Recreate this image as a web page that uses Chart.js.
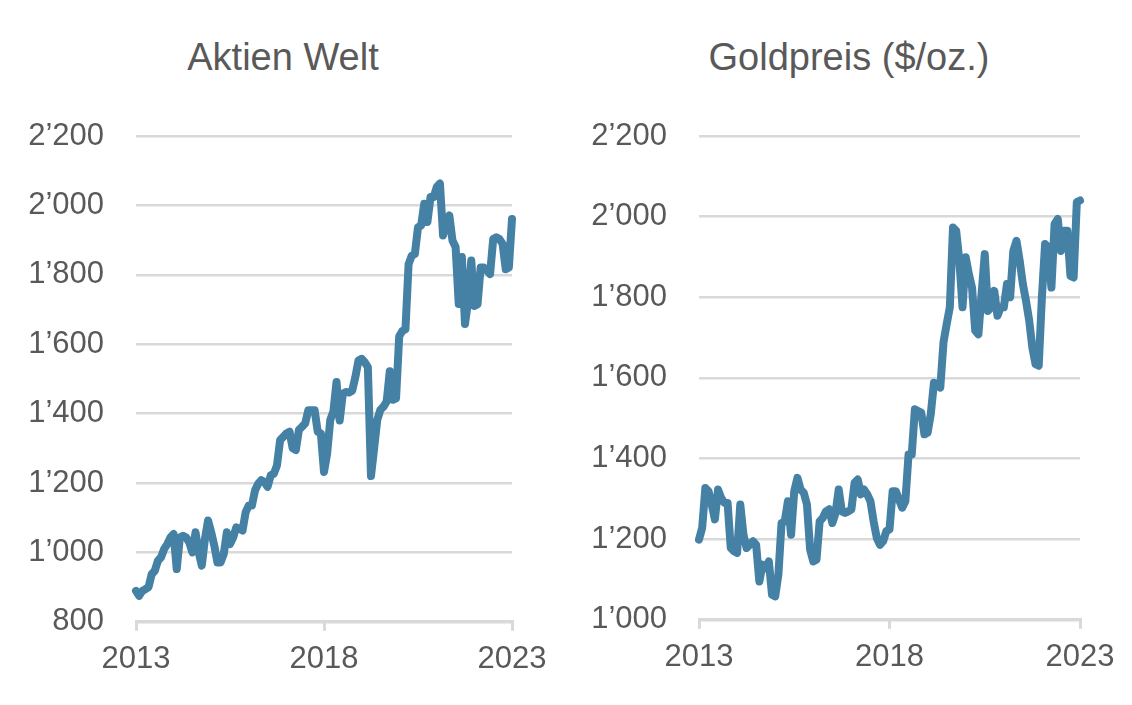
<!DOCTYPE html>
<html>
<head>
<meta charset="utf-8">
<script src="https://cdn.jsdelivr.net/npm/chart.js@4"></script>
<style>
  body { margin: 0; background: #fff; }
  .panel { position: absolute; top: 0; width: 566px; height: 705px; }
  #left { left: 0; }
  #right { left: 566px; }
  .title {
    position: absolute; left: 0; top: 36px; width: 566px;
    text-align: center; line-height: 46px;
    font: 38px "Liberation Sans", Arial, sans-serif; color: #595959;
  }
  canvas { position: absolute; left: 0; top: 0; }
</style>
</head>
<body>
<div class="panel" id="left"><div class="title" id="t0"></div><canvas id="aktien"></canvas></div>
<div class="panel" id="right"><div class="title" id="t1"></div><canvas id="gold"></canvas></div>
<script>
// monthly values, Jan 2013 .. Jan 2023
const aktienWelt = [
  889, 875, 889, 894, 900, 937, 947, 976, 986, 1010, 1024, 1043,
  1053, 952, 1043, 1048, 1043, 1029, 1000, 1058, 1000, 962, 1039, 1092,
  1058, 1019, 971, 971, 995, 1058, 1024, 1043, 1072, 1068, 1063, 1116,
  1135, 1135, 1179, 1198, 1208, 1203, 1189, 1222, 1227, 1251, 1324, 1333,
  1343, 1348, 1300, 1295, 1353, 1362, 1372, 1410, 1410, 1410, 1348, 1343,
  1232, 1285, 1382, 1406, 1491, 1380, 1457, 1462, 1461, 1466, 1505, 1553,
  1558, 1548, 1534, 1220, 1300, 1382, 1411, 1420, 1435, 1522, 1440, 1444,
  1623, 1638, 1643, 1831, 1855, 1860, 1937, 1942, 2005, 1952, 2024, 2024,
  2053, 2063, 1913, 1947, 1971, 1899, 1880, 1716, 1851, 1658, 1725, 1841,
  1710, 1715, 1821, 1821, 1812, 1802, 1903, 1908, 1903, 1889, 1816, 1821,
  1961
];
const goldPreis = [
  1199, 1228, 1327, 1319, 1286, 1249, 1323, 1302, 1290, 1290, 1178, 1170,
  1166, 1286, 1211, 1178, 1186, 1195, 1186, 1095, 1137, 1128, 1145, 1062,
  1058, 1112, 1240, 1244, 1294, 1211, 1319, 1352, 1323, 1315, 1286, 1174,
  1145, 1149, 1244, 1253, 1269, 1274, 1240, 1265, 1323, 1269, 1265, 1269,
  1274, 1340, 1348, 1311, 1323, 1311, 1294, 1244, 1203, 1186, 1195, 1220,
  1224, 1319, 1319, 1298, 1278, 1294, 1410, 1410, 1522, 1518, 1514, 1460,
  1464, 1510, 1588, 1584, 1576, 1688, 1733, 1775, 1973, 1965, 1891, 1775,
  1899, 1857, 1824, 1717, 1708, 1808, 1907, 1766, 1775, 1816, 1754, 1775,
  1775, 1833, 1800, 1915, 1940, 1891, 1833, 1791, 1742, 1675, 1634, 1630,
  1800, 1932, 1924, 1824, 1982, 1994, 1915, 1965, 1965, 1853, 1849, 2036,
  2040
];
const yearLabels = ['2013', '2018', '2023'];
const titles = ['Aktien Welt', 'Goldpreis ($/oz.)'];

const lineColor = '#4581a5';
const gridColor = '#d9d9d9';
const textColor = '#595959';
const fontFamily = '"Liberation Sans", Arial, sans-serif';

function fmt(v) {
  const s = String(Math.round(v));
  return s.length > 3 ? s.slice(0, -3) + '\u2019' + s.slice(-3) : s;
}

function makeChart(canvas, { values, yMin, yMax, axisWidth, padRight, padBottom }) {
  return new Chart(canvas, {
    type: 'line',
    data: {
      datasets: [{
        data: values.map((v, i) => ({ x: i, y: v })),
        borderColor: lineColor,
        borderWidth: 8,
        borderJoinStyle: 'round',
        borderCapStyle: 'round',
        pointRadius: 0,
        tension: 0,
        clip: false,
      }],
    },
    options: {
      responsive: false,
      animation: false,
      events: [],
      layout: { padding: { left: 0, right: padRight, top: 136, bottom: padBottom } },
      plugins: {
        legend: { display: false },
        tooltip: { enabled: false },
      },
      scales: {
        x: {
          type: 'linear',
          min: 0,
          max: 120,
          grid: { drawOnChartArea: false, color: gridColor, lineWidth: 3, tickLength: 9 },
          border: { color: gridColor, width: 3 },
          ticks: {
            stepSize: 60,
            padding: 10,
            maxRotation: 0,
            color: textColor,
            font: { family: fontFamily, size: 31 },
            callback: (v) => yearLabels[v / 60],
          },
        },
        y: {
          min: yMin,
          max: yMax,
          afterFit: (axis) => { axis.width = axisWidth; },
          grid: { color: gridColor, lineWidth: 2.5, drawTicks: false },
          border: { display: false },
          ticks: {
            stepSize: 200,
            padding: 32,
            color: textColor,
            font: { family: fontFamily, size: 31 },
            callback: (v) => fmt(v),
          },
        },
      },
    },
  });
}

document.getElementById('t0').textContent = titles[0];
document.getElementById('t1').textContent = titles[1];

const setSize = (c) => { c.width = 566; c.height = 705; c.style.width = '566px'; c.style.height = '705px'; };
const cA = document.getElementById('aktien');
const cG = document.getElementById('gold');
setSize(cA);
setSize(cG);

makeChart(cA, { values: aktienWelt, yMin: 800, yMax: 2200, axisWidth: 136, padRight: 54, padBottom: 17 });
makeChart(cG, { values: goldPreis, yMin: 1000, yMax: 2200, axisWidth: 133, padRight: 52, padBottom: 19 });
</script>
</body>
</html>
